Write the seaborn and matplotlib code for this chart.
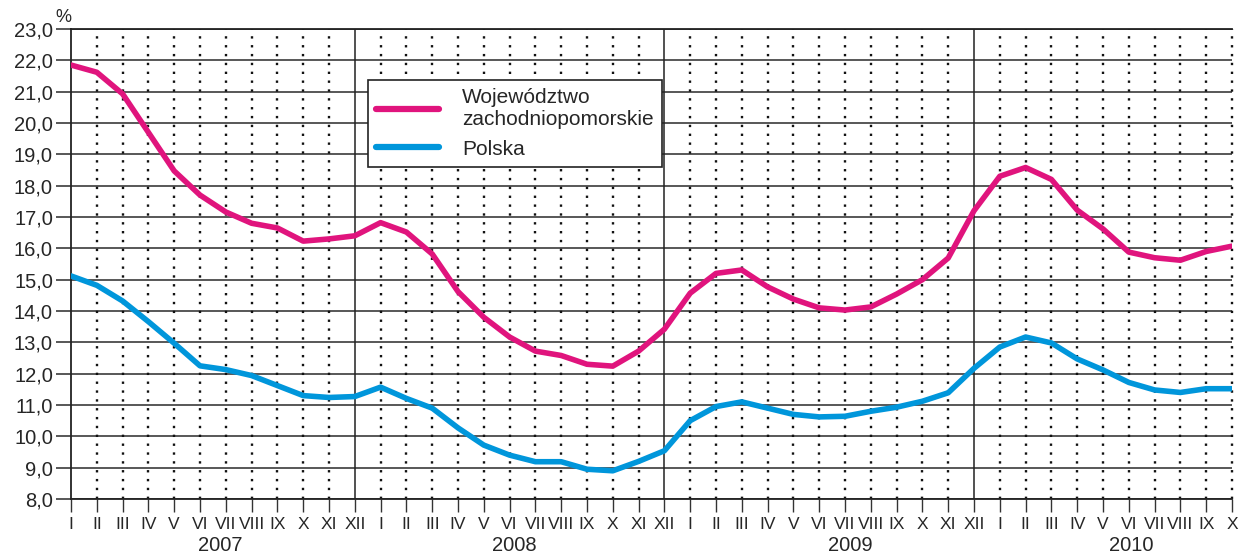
import matplotlib
matplotlib.use('Agg')
import matplotlib.pyplot as plt
import matplotlib.transforms as mtransforms
import seaborn as sns
import pandas as pd

# months I 2007 .. X 2010
months = ['I', 'II', 'III', 'IV', 'V', 'VI', 'VII', 'VIII', 'IX', 'X', 'XI', 'XII'] * 3 + \
         ['I', 'II', 'III', 'IV', 'V', 'VI', 'VII', 'VIII', 'IX', 'X']
years = ['2007', '2008', '2009', '2010']
year_label_pos = [5.8, 17.2, 30.2, 41.1]

zachodniopomorskie = [
    21.85, 21.62, 20.93, 19.70, 18.47, 17.70, 17.16, 16.80, 16.65, 16.23, 16.30, 16.40,
    16.82, 16.52, 15.82, 14.62, 13.80, 13.17, 12.72, 12.58, 12.30, 12.24, 12.72, 13.42,
    14.57, 15.20, 15.31, 14.77, 14.38, 14.10, 14.03, 14.13, 14.54, 15.00, 15.69, 17.20,
    18.30, 18.58, 18.20, 17.22, 16.62, 15.88, 15.70, 15.62, 15.90, 16.07]
polska = [
    15.12, 14.82, 14.32, 13.66, 12.97, 12.25, 12.13, 11.94, 11.62, 11.30, 11.24, 11.27,
    11.57, 11.21, 10.90, 10.27, 9.72, 9.40, 9.19, 9.19, 8.95, 8.90, 9.20, 9.54,
    10.50, 10.95, 11.10, 10.90, 10.70, 10.62, 10.64, 10.80, 10.93, 11.12, 11.39, 12.17,
    12.85, 13.17, 12.98, 12.47, 12.12, 11.72, 11.48, 11.40, 11.52, 11.52]

label_z = 'Województwo\nzachodniopomorskie'
label_p = 'Polska'

n = len(months)
df = pd.DataFrame({
    'idx': list(range(n)) * 2,
    'value': zachodniopomorskie + polska,
    'series': [label_z] * n + [label_p] * n,
})

sns.set_style('white')
plt.rcParams['font.family'] = ['Liberation Sans', 'DejaVu Sans']

fig = plt.figure(figsize=(12.49, 5.55), dpi=100)
ax = fig.add_axes([71 / 1249, 1 - 499 / 555, (1232 - 71) / 1249, (499 - 29) / 555])

grid_col = '#4a4a4a'

# vertical month lines: solid at year ends, dotted otherwise
for i, m in enumerate(months):
    if i == 0:
        continue
    if m == 'XII':
        ax.axvline(i, color='#222222', lw=1.1, zorder=1)
    else:
        ax.axvline(i, color='#111111', lw=1.7, ls=(0, (1, 2.75)), zorder=1, clip_on=False)

sns.lineplot(data=df, x='idx', y='value', hue='series', hue_order=[label_z, label_p],
             palette=['#E0147D', '#0096DB'], lw=4, ax=ax, zorder=3,
             solid_capstyle='round')

ax.set_xlim(0, n - 1)
ax.set_ylim(8, 23)
ax.set_yticks(range(8, 24))
ax.set_yticklabels([f'{v},0' for v in range(8, 24)], fontsize=14.5)
ax.set_xticks(range(n))
ax.set_xticklabels(months, fontsize=12.5)
ax.yaxis.grid(True, color=grid_col, lw=1.3)
ax.set_axisbelow(True)
ax.tick_params(axis='y', length=11, width=1.3, color=grid_col, pad=2, left=True)
ax.tick_params(axis='x', length=9, width=1.0, color='#333333', pad=4, bottom=True)
ax.set_xlabel('')
ax.set_ylabel('')

for s in ['left', 'top', 'bottom']:
    ax.spines[s].set_color('#222222')
    ax.spines[s].set_linewidth(1.3)
ax.spines['right'].set_visible(False)

trans = mtransforms.blended_transform_factory(ax.transData, ax.transAxes)
for y, xpos in zip(years, year_label_pos):
    ax.text(xpos, (499 - 551) / 470, y, transform=trans, ha='center', va='baseline',
            fontsize=14.5)

fig.text(63 / 1249, 1 - 17 / 555, '%', ha='center', va='center', fontsize=13)

leg = ax.legend(loc='upper left', bbox_to_anchor=(368 / 1249, 1 - 80 / 555),
                bbox_transform=fig.transFigure, frameon=True, fancybox=False,
                edgecolor='#222222', fontsize=15, handlelength=3.0,
                handletextpad=1.1, borderpad=0.4, labelspacing=0.5, framealpha=1,
                borderaxespad=0)
leg.get_frame().set_linewidth(1.2)
for h in leg.get_lines():
    h.set_linewidth(4.5)
    h.set_solid_capstyle('round')

fig.savefig('out.png', dpi=100)
